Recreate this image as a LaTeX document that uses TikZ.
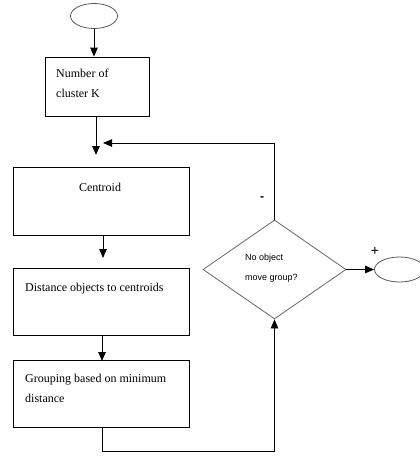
\documentclass[tikz,border=0pt]{standalone}
\usepackage{fontspec}
\setmainfont{Liberation Serif}
\newfontfamily\diamfont{Liberation Sans}
\usetikzlibrary{arrows.meta,shapes.geometric}
\begin{document}
\begin{tikzpicture}[x=1pt,y=1pt,
  box/.style={draw=black,line width=0.8pt,rectangle,inner sep=0pt},
  oval/.style={draw=black!65,line width=0.8pt,ellipse,inner sep=0pt,minimum width=47pt,minimum height=25pt},
  txt/.style={inner sep=0pt,anchor=base west,font=\fontsize{12}{14}\selectfont},
  conn/.style={draw=black,line width=0.8pt,-{Triangle[length=9pt,width=7.5pt]}},
  plain/.style={draw=black,line width=0.8pt},
  lab/.style={inner sep=0pt,font=\diamfont\fontsize{14}{15}\selectfont}]
\useasboundingbox (0,0) rectangle (420,-461);
% nodes
\node[oval] (start) at (94,-16) {};
\node[box,minimum width=104pt,minimum height=59pt] (k) at (97,-86.5) {};
\node[txt] (kt1) at (56,-77) {Number of};
\node[txt] (kt2) at (56,-97) {cluster K};
\node[box,minimum width=176pt,minimum height=68pt] (cen) at (101,-201) {};
\node[txt,anchor=base] (cent) at (100,-191) {Centroid};
\node[box,minimum width=176pt,minimum height=67pt] (dist) at (101,-301.5) {};
\node[txt] (distt) at (25,-291) {Distance objects to centroids};
\node[box,minimum width=176pt,minimum height=67pt] (grp) at (101,-393.5) {};
\node[txt] (grpt1) at (25,-382) {Grouping based on minimum};
\node[txt] (grpt2) at (25,-402) {distance};
\node[diamond,draw=black!60,line width=0.8pt,inner sep=0pt,minimum width=143pt,minimum height=99pt] (dec) at (274.5,-269.5) {};
\node[inner sep=0pt,anchor=base west,font=\diamfont\fontsize{9}{10}\selectfont] (dt1) at (245,-260) {No object};
\node[inner sep=0pt,anchor=base west,font=\diamfont\fontsize{9}{10}\selectfont] (dt2) at (245,-280) {move group?};
\node[oval,minimum width=50pt] (stop) at (399.5,-269.5) {};
\node[lab,font=\diamfont\bfseries\fontsize{12}{13}\selectfont] (minus) at (262,-199) {-};
\node[lab] (plus) at (375,-251) {+};
% helper coordinates
\coordinate (join) at (96,-155);
\coordinate (fbcorner) at (274.5,-143);
\coordinate (fbend) at (103,-143);
\coordinate (bl) at (102,-451);
\coordinate (br) at (274.5,-451);
\coordinate (cenin) at (103,-258);
\coordinate (grpin) at (102,-361);
% connectors
\draw[conn] (start.south) -- (start.south |- k.north);
\draw[conn] (k.south -| join) -- (join);
\draw[conn] (dec.north) -- (fbcorner) -- (fbend);
\draw[conn] (cen.south -| cenin) -- (cenin);
\draw[conn] (dist.south -| grpin) -- (grpin);
\draw[plain] (grp.south -| bl) -- (bl);
\draw[conn] (bl) -- (br) -- (dec.south);
\draw[conn] (dec.east) -- (stop.west);
\end{tikzpicture}
\end{document}
